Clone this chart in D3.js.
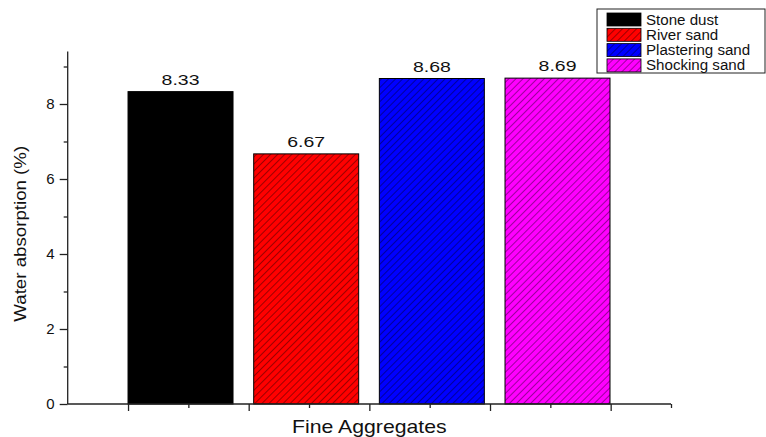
<!DOCTYPE html>
<html><head><meta charset="utf-8">
<script src="https://cdn.jsdelivr.net/npm/d3@7"></script>
<style>body{margin:0;background:#fff}svg{display:block;font-family:"Liberation Sans",Arial,sans-serif}</style>
</head><body>
<script>
const categories = ["Stone dust", "River sand", "Plastering sand", "Shocking sand"];
const values = [8.33, 6.67, 8.68, 8.69];
const labels = ["8.33", "6.67", "8.68", "8.69"];
const colors = ["#000000", "#ff0000", "#0000ff", "#ff00ff"];
const hatched = [false, true, true, true];
const yTicks = [0, 2, 4, 6, 8];
const yMinor = [1, 3, 5, 7, 9];

const W = 766, H = 437;
const svg = d3.select("body").append("svg").attr("width", W).attr("height", H);
const defs = svg.append("defs");
colors.forEach((c, i) => {
  const p = defs.append("pattern").attr("id", "h" + i).attr("patternUnits", "userSpaceOnUse")
    .attr("width", 5).attr("height", 5).attr("patternTransform", "rotate(45)");
  p.append("rect").attr("width", 5).attr("height", 5).attr("fill", c);
  p.append("line").attr("x1", 0).attr("y1", 0).attr("x2", 0).attr("y2", 5)
    .attr("stroke", "#000").attr("stroke-opacity", 0.55).attr("stroke-width", 1.4);
});

function stext(g, x, yy, str, size, sx, anchor) {
  return g.append("text").attr("transform", `translate(${x},${yy}) scale(${sx},1)`)
    .attr("text-anchor", anchor || "start").attr("font-size", size).attr("fill", "#111").text(str);
}

const x0 = 67.7, x1 = 671;
const y = d3.scaleLinear().domain([0, 9.4]).range([404, 51.5]);
const xl = d3.scaleLinear().domain([0, 10]).range([x0, x1]);
const xb = d3.scaleBand().domain(categories).range([xl(1), 610]).paddingInner(0.1645).paddingOuter(0);

// bars
svg.append("g").selectAll("rect").data(categories).join("rect")
  .attr("x", d => xb(d)).attr("width", xb.bandwidth())
  .attr("y", (d, i) => y(values[i])).attr("height", (d, i) => y(0) - y(values[i]))
  .attr("fill", (d, i) => hatched[i] ? `url(#h${i})` : colors[i])
  .attr("stroke", "#000").attr("stroke-width", 1);

const lblG = svg.append("g");
categories.forEach((d, i) => {
  stext(lblG, xb(d) + xb.bandwidth() / 2, y(values[i]) - 7, labels[i], 15, 1.3, "middle");
});

// y axis
const ya = svg.append("g").attr("transform", `translate(${x0},0)`)
  .call(d3.axisLeft(y).tickValues(yTicks).tickSize(8).tickPadding(5).tickFormat(d3.format("d")));
ya.select(".domain").attr("d", `M0,${y(0)}V${y(9.4)}`);
ya.selectAll("text").attr("font-size", 15).attr("font-family", "Liberation Sans, Arial, sans-serif").attr("fill", "#111");
ya.selectAll("line, path").attr("stroke", "#222").attr("stroke-width", 1.3);
svg.append("g").attr("transform", `translate(${x0},0)`)
  .call(d3.axisLeft(y).tickValues(yMinor).tickSize(4).tickFormat(""))
  .call(g => g.select(".domain").remove())
  .selectAll("line").attr("stroke", "#222").attr("stroke-width", 1.3);

// x axis
const xa = svg.append("g").attr("transform", `translate(0,${y(0)})`)
  .call(d3.axisBottom(xl).tickValues([1, 3, 5, 7, 9]).tickSize(7).tickFormat(""));
xa.select(".domain").attr("d", `M${x0},0H${x1}`);
xa.selectAll("line, path").attr("stroke", "#222").attr("stroke-width", 1.3);
svg.append("g").attr("transform", `translate(0,${y(0)})`)
  .call(d3.axisBottom(xl).tickValues([2, 4, 6, 8, 10]).tickSize(4).tickFormat(""))
  .call(g => g.select(".domain").remove())
  .selectAll("line").attr("stroke", "#222").attr("stroke-width", 1.3);

stext(svg, (x0 + x1) / 2, 433, "Fine Aggregates", 18, 1.18, "middle");
svg.append("text").attr("transform", `translate(26,${(y(0) + y(9.4)) / 2 + 6}) rotate(-90) scale(1.1,1)`)
  .attr("text-anchor", "middle").attr("font-size", 17).attr("fill", "#111").text("Water absorption (%)");

// legend
const lg = svg.append("g");
lg.append("rect").attr("x", 597).attr("y", 9).attr("width", 168).attr("height", 64)
  .attr("fill", "#fff").attr("stroke", "#222").attr("stroke-width", 1);
categories.forEach((c, i) => {
  const yy = 13 + i * 15.3;
  lg.append("rect").attr("x", 607).attr("y", yy).attr("width", 34).attr("height", 13)
    .attr("fill", hatched[i] ? `url(#h${i})` : colors[i]).attr("stroke", "#000").attr("stroke-width", 0.8);
  stext(lg, 646, yy + 11.5, c, 14, 1.08);
});
</script>
</body></html>
